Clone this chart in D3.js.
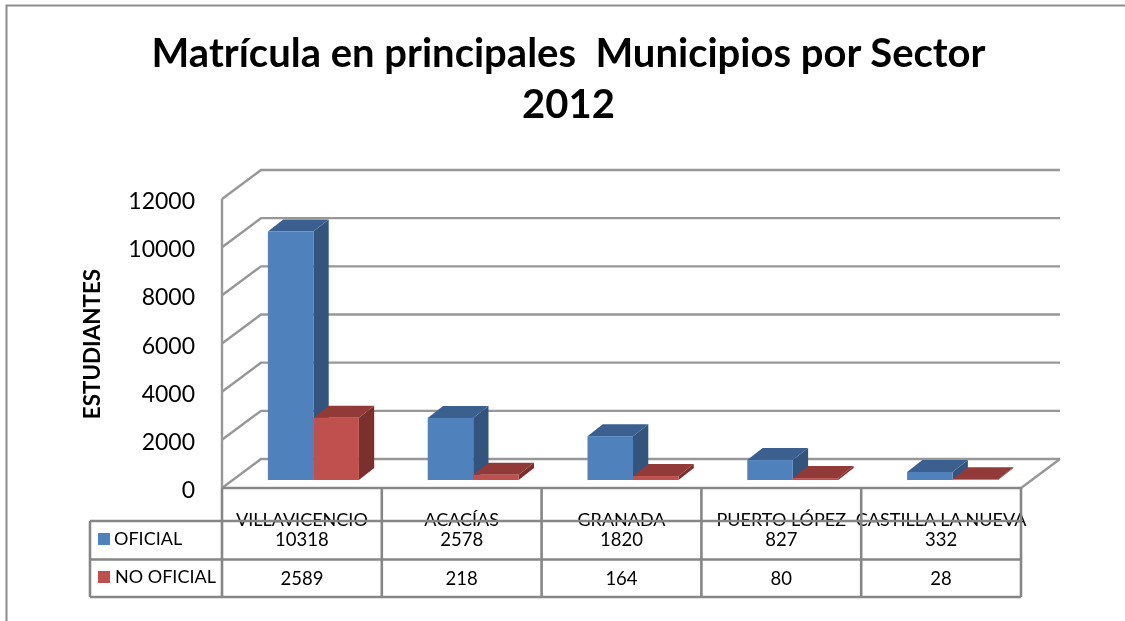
<!DOCTYPE html>
<html><head><meta charset="utf-8">
<script src="https://cdn.jsdelivr.net/npm/d3@7"></script>
<style>html,body{margin:0;padding:0;background:#fff;overflow:hidden}svg{filter:blur(0.4px)}text{font-family:Lato,"Noto Sans",sans-serif;fill:#000}</style>
</head><body><svg id="c" width="1125" height="621"></svg>
<script>
const categories=["VILLAVICENCIO","ACACÍAS","GRANADA","PUERTO LÓPEZ","CASTILLA LA NUEVA"];
const seriesNames=["OFICIAL","NO OFICIAL"];
const oficial=[10318,2578,1820,827,332];
const noOficial=[2589,218,164,80,28];
const yTicks=[0,2000,4000,6000,8000,10000,12000];
const titleLines=["Matrícula en principales  Municipios por Sector","2012"];
const yTitle="ESTUDIANTES";
const colors=[{front:"#4f81bd",side:"#32547d",top:"#3b6090"},{front:"#c0504d",side:"#7c302e",top:"#923a38"}];

const svg=d3.select("#c");
const L=222,R=1021,B=488,T=199,DX=39,DY=-29;
const grid="#979797",tbl="#868686";
const x=d3.scaleBand().domain(categories).range([L,R]);
const y=d3.scaleLinear().domain([0,12000]).range([B,T]);
const pts=a=>a.map(p=>p.join(",")).join(" ");

// outer frame
svg.append("path").attr("d","M6.5,621V5.5H1125").attr("fill","none").attr("stroke","#8c8c8c").attr("stroke-width",2);

// title
svg.selectAll("text.title").data(titleLines).join("text").attr("class","title")
 .attr("x",568.5).attr("y",(d,i)=>[67,118][i]).attr("text-anchor","middle")
 .attr("font-size",40).attr("font-weight",700).style("white-space","pre").text(d=>d);

// walls
const g=svg.append("g").attr("fill","none").attr("stroke",grid).attr("stroke-width",2.4);
yTicks.forEach(t=>{
  g.append("path").attr("d",`M${L},${y(t)}L${L+DX},${y(t)+DY}H${R+DX}`);
});
g.append("path").attr("d",`M${L},${T}V${B}`);
g.append("path").attr("d",`M${R+DX},${y(0)+DY}L${R},${B}`);

// 3D bars
const barW=45.5, offX=11.5, offY=-8, dDX=15.3, dDY=-12;
[oficial,noOficial].forEach((vals,s)=>{
  const c=colors[s];
  const bg=svg.append("g");
  vals.forEach((v,i)=>{
    const cx=x(categories[i])+x.bandwidth()/2+offX;
    const x0=cx-barW+s*barW, x1=x0+barW;
    const yb=y(0)+offY, yt=y(v)+offY;
    bg.append("polygon").attr("points",pts([[x1,yb],[x1+dDX,yb+dDY],[x1+dDX,yt+dDY],[x1,yt]])).attr("fill",c.side);
    bg.append("polygon").attr("points",pts([[x0,yt],[x0+dDX,yt+dDY],[x1+dDX,yt+dDY],[x1,yt]])).attr("fill",c.top);
    bg.append("rect").attr("x",x0).attr("y",yt).attr("width",barW).attr("height",yb-yt).attr("fill",c.front);
  });
});

// y axis labels
svg.selectAll("text.yt").data(yTicks).join("text").attr("class","yt")
 .attr("x",195).attr("y",d=>y(d)+10).attr("text-anchor","end").attr("font-size",23).text(d=>d);
svg.append("text").attr("transform","translate(100,344) rotate(-90)").attr("text-anchor","middle")
 .attr("font-size",22.4).attr("font-weight",700).text(yTitle);

// category labels
svg.selectAll("text.cat").data(categories).join("text").attr("class","cat")
 .attr("x",d=>x(d)+x.bandwidth()/2).attr("y",526).attr("text-anchor","middle").attr("font-size",18).text(d=>d);

// data table
const rowY=[521,559.5,597], tX=90;
const tg=svg.append("g").attr("fill","none").attr("stroke",tbl).attr("stroke-width",2.6);
tg.append("path").attr("d",`M${L},${B}H${R}`);
tg.append("path").attr("d",`M${tX},${rowY[0]}H${R}M${tX},${rowY[1]}H${R}M${tX},${rowY[2]}H${R}M${tX},${rowY[0]}V${rowY[2]}`);
d3.range(categories.length+1).forEach(i=>{
  const xx=L+i*x.bandwidth();
  tg.append("path").attr("d",`M${xx},${B}V${rowY[2]}`);
});
[oficial,noOficial].forEach((vals,s)=>{
  svg.append("rect").attr("x",98).attr("y",[533,571][s]).attr("width",12).attr("height",12).attr("fill",colors[s].front);
  svg.append("text").attr("x",[114,115][s]).attr("y",[545,583][s]).attr("font-size",18).text(seriesNames[s]);
  svg.selectAll(null).data(vals).join("text")
   .attr("x",(d,i)=>x(categories[i])+x.bandwidth()/2).attr("y",[546,585][s]).attr("text-anchor","middle").attr("font-size",18.5).text(d=>d);
});
</script></body></html>
